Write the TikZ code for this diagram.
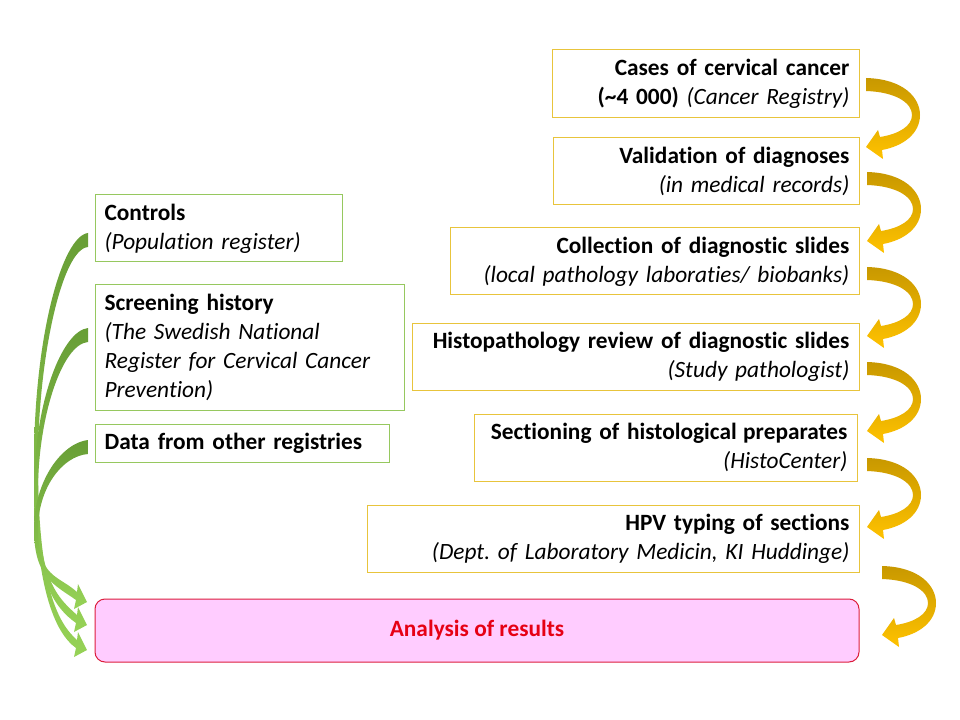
\documentclass[tikz,border=0pt]{standalone}
\usepackage{fontspec}
\setmainfont{Carlito}[Ligatures=NoCommon]
\frenchspacing
\definecolor{ydark}{RGB}{200,152,0}
\definecolor{ylight}{RGB}{255,194,0}
\definecolor{ybord}{RGB}{232,196,60}
\definecolor{gdark}{RGB}{104,158,54}
\definecolor{glight}{RGB}{150,210,86}
\definecolor{gbord}{RGB}{150,200,95}
\definecolor{pinkfill}{RGB}{255,204,255}
\definecolor{redbord}{RGB}{220,30,60}
\definecolor{redtext}{RGB}{230,0,20}
\newcommand\rl[1]{\hbox to \hsize{\hss #1}}
\tikzset{
  boxbase/.style={draw, line width=0.75pt, inner xsep=7.2pt, inner ysep=3.6pt,
    font=\fontsize{17.5}{21.6}\selectfont},
  ybox/.style={boxbase, draw=ybord, align=right},
  gbox/.style={boxbase, draw=gbord, align=left},
  resbox/.style={draw=redbord, line width=0.75pt, fill=pinkfill, rounded corners=7.5pt,
    font=\fontsize{17.5}{21.6}\selectfont\bfseries, text=redtext},
  yarrow/.pic={
    \shade[top color=ydark, bottom color=ylight]
      (0,0) .. controls (38,1) and (54,20) .. (54,37)
      .. controls (54,55) and (38,68) .. (16,72)
      -- (17,81) -- (0,69) -- (12,52) -- (14,59)
      .. controls (33,56) and (46,48) .. (46,37)
      .. controls (46,25) and (30,14) .. (0,13) -- cycle;
  }
}
\newcommand\garrow[2]{%
  \shade[top color=gdark, bottom color=glight]
    (88,#1) .. controls (62,{#1+3}) and (34,{#1+0.25*(#2-#1)}) .. (34,{#1+0.55*(#2-#1)})
    .. controls (34,{#1+0.85*(#2-#1)}) and (55,{#2-17}) .. (76,{#2-2})
    -- (74,{#2+7}) -- (87,#2) -- (78,{#2-18}) -- (77,{#2-10})
    .. controls (58,{#2-27}) and (38,{#1+0.85*(#2-#1)}) .. (38,{#1+0.55*(#2-#1)})
    .. controls (38,{#1+0.3*(#2-#1)}) and (62,{#1+16}) .. (88,{#1+14}) -- cycle;
}
\begin{document}
\begin{tikzpicture}[x=0.75pt,y=-0.75pt]
\useasboundingbox (0,0) rectangle (960,720);
\fill[white] (0,0) rectangle (960,720);

% yellow boxes
\node[ybox, text width=215.85pt, minimum height=51pt] (c1) at (705.5,84)
  {\rl{\textbf{Cases of cervical cancer}}\\\rl{\textbf{(\textasciitilde4 000)} \textit{(Cancer Registry)}}};
\node[ybox, text width=215.1pt, minimum height=50.25pt] (c2) at (706,171.5)
  {\rl{\textbf{Validation of diagnoses}}\\\rl{\textit{(in medical records)}}};
\node[ybox, text width=292.35pt, minimum height=50.25pt] (c3) at (654.5,261.5)
  {\rl{\textbf{Collection of diagnostic slides}}\\\rl{\textit{(local pathology laboraties/ biobanks)}}};
\node[ybox, text width=320.85pt, minimum height=50.25pt] (c4) at (635.5,356.5)
  {\rl{\textbf{Histopathology review of diagnostic slides}}\\\rl{\textit{(Study pathologist)}}};
\node[ybox, text width=272.85pt, minimum height=50.25pt] (c5) at (665.5,447.5)
  {\rl{\textbf{Sectioning of histological\hspace{-1pt} preparates}}\\\rl{\textit{(HistoCenter)}}};
\node[ybox, text width=354.6pt, minimum height=50.25pt] (c6) at (613,538.5)
  {\rl{\textbf{HPV typing of sections}}\\\rl{\textit{(Dept. of Laboratory Medicin, KI Huddinge)}}};

% green boxes
\node[gbox, text width=170.85pt, minimum height=50.25pt] (g1) at (218.5,228.5)
  {\textbf{Controls}\\\textit{(Population register)}};
\node[gbox, text width=217.35pt, minimum height=93.75pt] (g2) at (249.5,347.5)
  {\textbf{Screening history}\\\textit{(The Swedish National}\\\textit{Register for Cervical Cancer}\\\textit{Prevention)}};
\node[gbox, text width=206.1pt, minimum height=28.5pt] (g3) at (242,443)
  {\textbf{Data from other registries}};

% result box
\node[resbox, minimum width=573pt, minimum height=47.25pt] (res) at (477,630.5)
  {Analysis of results};

% yellow arrows
\pic at (866,78) {yarrow};
\pic at (867,172) {yarrow};
\pic at (867,267) {yarrow};
\pic at (867,362) {yarrow};
\pic at (867,458) {yarrow};
\pic at (882,566) {yarrow};

% green arrows
\garrow{233}{650}
\garrow{328}{625}
\garrow{440}{602}
\end{tikzpicture}
\end{document}
